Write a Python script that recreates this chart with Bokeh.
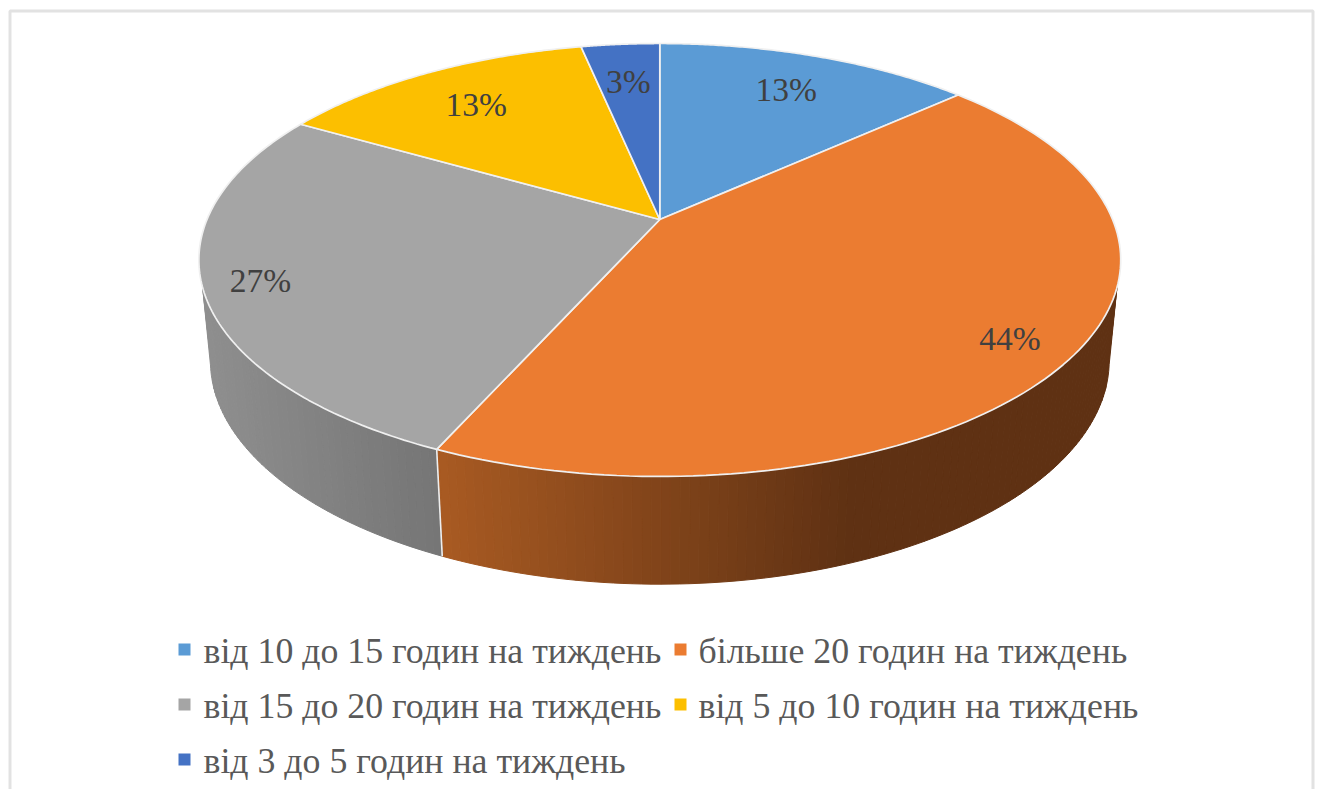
import numpy as np
from bokeh.plotting import figure
from bokeh.models import Range1d, ColumnDataSource
from bokeh.core.properties import value
from bokeh.embed import file_html
from bokeh.resources import INLINE

# ---- data ----
categories = ["від 10 до 15 годин на тиждень", "більше 20 годин на тиждень",
              "від 15 до 20 годин на тиждень", "від 5 до 10 годин на тиждень",
              "від 3 до 5 годин на тиждень"]
shares = [13.3, 43.4, 26.6, 13.4, 3.3]
pct_labels = ["13%", "44%", "27%", "13%", "3%"]

# ---- styling ----
colors = ["#5B9BD5", "#EB7C31", "#A5A5A5", "#FCBF00", "#4472C4"]
label_radius = [0.78, 0.865, 0.88, 0.77, 0.77]
LABEL_DY = 1.5
FONT = "Liberation Serif"
W, H = 1317, 789
CX, TOP_Y0, TOP_A, TOP_B = 659.3, 219, 452.8, 208.9
BOT_Y0, BOT_A, BOT_B = 318, 441.5, 216
K = 0.187
VIS_FROM, VIS_TO = 107.9, 252.1
CAP = 6.0


def project(deg, r=1.0, bottom=False):
    t = np.radians(deg)
    u, v = r * np.sin(t), r * np.cos(t)
    den = 1 + K * v
    if bottom:
        return CX + BOT_A * u / den, BOT_Y0 - BOT_B * v / den
    return CX + TOP_A * u / den, TOP_Y0 - TOP_B * v / den


def ramp(c0, c1, f):
    a = [int(c0[i:i + 2], 16) for i in (1, 3, 5)]
    b = [int(c1[i:i + 2], 16) for i in (1, 3, 5)]
    return "#%02x%02x%02x" % tuple(int(round(a[i] + (b[i] - a[i]) * f)) for i in range(3))


p = figure(width=W, height=H, output_backend="svg", toolbar_location=None,
           x_range=Range1d(0, W), y_range=Range1d(H, 0),
           min_border=0, outline_line_color=None, background_fill_color="white",
           border_fill_color="white")
p.axis.visible = False
p.grid.visible = False

# chart frame (open at the bottom, as in the picture)
p.line([9.5, 9.5, 1312.5, 1312.5], [H, 10.5, 10.5, H], line_color="#e2e2e2", line_width=3)

fr = np.array(shares) / sum(shares)
edges = np.concatenate([[0], np.cumsum(fr)]) * 360

# ---- side wall: thin strips shaded by horizontal position ----
wall_ramps = {1: ("#a85a22", "#5f3113"), 2: ("#8e8e8e", "#757575")}
wx, wy, wc = [], [], []
for i in range(len(shares)):
    a0, a1 = max(edges[i], VIS_FROM), min(edges[i + 1], VIS_TO)
    if a1 <= a0:
        continue
    angs = np.arange(a0, a1 + 1e-6, 1.0)
    if angs[-1] < a1:
        angs = np.append(angs, a1)
    for s, e in zip(angs[:-1], angs[1:]):
        tx0, ty0 = project(s)
        tx1, ty1 = project(e)
        bx0, by0 = project(s, bottom=True)
        bx1, by1 = project(e, bottom=True)
        m = (tx0 + tx1) / 2
        if i == 1:
            f = np.clip((m - 440) / (850 - 440), 0, 1)
        else:
            f = np.clip((m - 205) / (440 - 205), 0, 1)
        wc.append(ramp(wall_ramps[i][0], wall_ramps[i][1], f))
        wx.append([tx0, tx1, bx1, bx0])
        wy.append([ty0, ty1, by1, by0])

# rounded shoulders: the lower rim runs a little past the silhouette point
for ang, sgn, col in ((VIS_FROM, -1, wall_ramps[1][1]), (VIS_TO, 1, wall_ramps[2][0])):
    tx, ty = project(ang)
    arc = np.linspace(ang, ang + sgn * CAP, 8)
    bx, by = project(arc, bottom=True)
    wx.append(np.concatenate([[tx], bx]))
    wy.append(np.concatenate([[ty], by]))
    wc.append(col)

p.patches("x", "y", source=ColumnDataSource(dict(x=wx, y=wy, c=wc)),
          fill_color="c", line_color="c", line_width=1)

# white line on the wall between two slices
for ed in edges[1:-1]:
    if VIS_FROM < ed < VIS_TO:
        tx, ty = project(ed)
        bx, by = project(ed, bottom=True)
        p.line([tx, bx], [ty, by], line_color="#eeeeee", line_width=1.6)

# ---- top face ----
sx, sy = [], []
for i in range(len(shares)):
    angs = np.linspace(edges[i], edges[i + 1], 120)
    xs, ys = project(angs)
    sx.append(np.concatenate([[CX], xs]))
    sy.append(np.concatenate([[TOP_Y0], ys]))
p.patches("x", "y", source=ColumnDataSource(dict(x=sx, y=sy, c=colors)),
          fill_color="c", line_color="#f0f0f0", line_width=1.7)

# ---- percent labels ----
mid = (edges[:-1] + edges[1:]) / 2
lx, ly = zip(*[project(m, r) for m, r in zip(mid, label_radius)])
p.text(list(lx), [y + LABEL_DY for y in ly], text=pct_labels, text_align="center",
       text_baseline="middle", text_font=value(FONT), text_font_size="33.5px",
       text_color="#404040")

# ---- legend ----
leg_row = [0, 0, 1, 1, 2]
leg_col = [0, 1, 0, 1, 0]
col_x = [178, 674]
text_x = [203, 698]
row_y = [649, 704, 759]
mx = [col_x[c] + 6 for c in leg_col]
my = [row_y[r] for r in leg_row]
p.rect(mx, my, width=12, height=12, fill_color=colors, line_color=None)
p.text([text_x[c] for c in leg_col], [y + 1 for y in my], text=categories, text_align="left",
       text_baseline="middle", text_font=value(FONT), text_font_size="35.8px",
       text_color="#595959")

open("out.html", "w").write(file_html(p, INLINE))
